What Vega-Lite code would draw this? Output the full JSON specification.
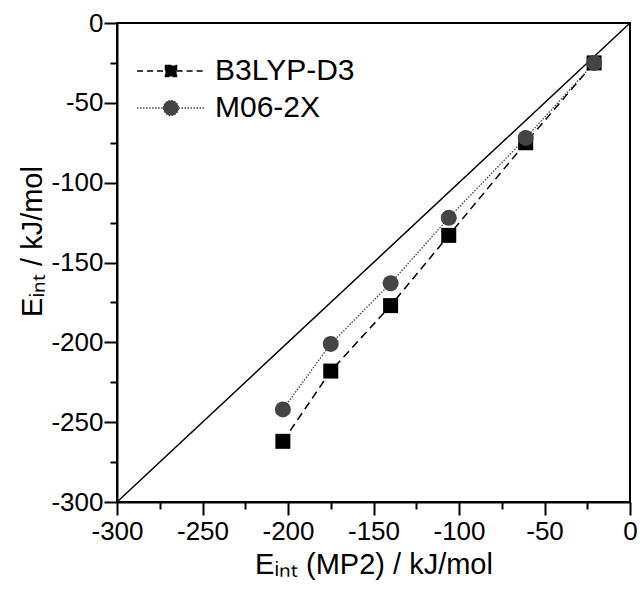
{
  "$schema": "https://vega.github.io/schema/vega-lite/v6.json",
  "width": 513,
  "height": 479,
  "autosize": {"type": "none"},
  "padding": {"left": 117, "top": 23, "right": 10, "bottom": 87},
  "background": "white",
  "config": {
    "font": "Liberation Sans",
    "view": {"stroke": "black", "strokeWidth": 2},
    "axis": {
      "grid": false,
      "domainColor": "black",
      "domainWidth": 2,
      "tickColor": "black",
      "tickWidth": 2,
      "labelColor": "black",
      "labelFontSize": 26,
      "labelFlush": false,
      "labelOverlap": false,
      "titleColor": "black",
      "titleFontSize": 29,
      "titleFontWeight": "normal"
    }
  },
  "data": {
    "values": [
      {"method": "B3LYP-D3", "mp2": -203, "dft": -262},
      {"method": "B3LYP-D3", "mp2": -175, "dft": -218},
      {"method": "B3LYP-D3", "mp2": -140, "dft": -177},
      {"method": "B3LYP-D3", "mp2": -106, "dft": -133},
      {"method": "B3LYP-D3", "mp2": -61, "dft": -75},
      {"method": "B3LYP-D3", "mp2": -21, "dft": -25},
      {"method": "M06-2X", "mp2": -203, "dft": -242},
      {"method": "M06-2X", "mp2": -175, "dft": -201},
      {"method": "M06-2X", "mp2": -140, "dft": -163},
      {"method": "M06-2X", "mp2": -106, "dft": -122},
      {"method": "M06-2X", "mp2": -61, "dft": -72},
      {"method": "M06-2X", "mp2": -21, "dft": -25}
    ]
  },
  "encoding": {
    "x": {
      "field": "mp2", "type": "quantitative",
      "scale": {"domain": [-300, 0], "nice": false, "zero": false},
      "axis": {
        "values": [-300, -275, -250, -225, -200, -175, -150, -125, -100, -75, -50, -25, 0],
        "labelExpr": "datum.value % 50 === 0 ? '' + datum.value : ''",
        "tickSize": {"condition": {"test": "datum.value % 50 === 0", "value": 13}, "value": 7},
        "labelPadding": 3,
        "title": "Eᵢₙₜ (MP2) / kJ/mol",
        "titlePadding": 6
      }
    },
    "y": {
      "field": "dft", "type": "quantitative",
      "scale": {"domain": [-300, 0], "nice": false, "zero": false},
      "axis": {
        "values": [-300, -275, -250, -225, -200, -175, -150, -125, -100, -75, -50, -25, 0],
        "labelExpr": "datum.value % 50 === 0 ? '' + datum.value : ''",
        "tickSize": {"condition": {"test": "datum.value % 50 === 0", "value": 13}, "value": 7},
        "labelPadding": 1,
        "title": "Eᵢₙₜ / kJ/mol",
        "titlePadding": 3,
        "titleY": 218
      }
    }
  },
  "layer": [
    {
      "data": {"values": [{"mp2": -300, "dft": -300}, {"mp2": 0, "dft": 0}]},
      "mark": {"type": "line", "color": "black", "strokeWidth": 1.5},
      "encoding": {}
    },
    {
      "mark": {"type": "line"},
      "encoding": {
        "detail": {"field": "method"},
        "stroke": {"condition": {"test": "datum.method === 'B3LYP-D3'", "value": "black"}, "value": "#444"},
        "strokeWidth": {"condition": {"test": "datum.method === 'B3LYP-D3'", "value": 1.5}, "value": 1.3},
        "strokeDash": {"condition": {"test": "datum.method === 'B3LYP-D3'", "value": [8, 5]}, "value": [1.5, 1.5]}
      }
    },
    {
      "mark": {"type": "point", "filled": true, "opacity": 1},
      "encoding": {
        "shape": {"condition": {"test": "datum.method === 'B3LYP-D3'", "value": "square"}, "value": "circle"},
        "size": {"condition": {"test": "datum.method === 'B3LYP-D3'", "value": 225}, "value": 256},
        "fill": {"condition": {"test": "datum.method === 'B3LYP-D3'", "value": "black"}, "value": "#444"}
      }
    },
    {
      "mark": {"type": "point", "filled": true, "opacity": 0, "strokeWidth": 1.3},
      "encoding": {
        "shape": {
          "field": "method", "type": "nominal",
          "scale": {
            "domain": ["B3LYP-D3", "M06-2X"],
            "range": [
              "M-4.85,0H-0.8M0.8,0H4.85M-0.8,-0.8H0.8V0.8H-0.8Z",
              "M-4.85,0H-1.07M1.07,0H4.85M-1.07,0A1.07,1.07 0 1,1 1.07,0A1.07,1.07 0 1,1 -1.07,0Z"
            ]
          },
          "legend": {"title": null, "orient": "none", "legendX": 39, "legendY": 33, "padding": 0, "symbolSize": 196, "symbolOpacity": 1, "symbolStrokeWidth": 1.3, "labelFontSize": 30, "labelColor": "black", "labelOffset": 29, "rowPadding": 7, "labelFont": "Liberation Sans"}
        },
        "fill": {
          "field": "method", "type": "nominal",
          "scale": {"domain": ["B3LYP-D3", "M06-2X"], "range": ["black", "#444"]},
          "legend": {"title": null, "orient": "none", "legendX": 39, "legendY": 33, "padding": 0, "symbolSize": 196, "symbolOpacity": 1, "symbolStrokeWidth": 1.3, "labelFontSize": 30, "labelColor": "black", "labelOffset": 29, "rowPadding": 7, "labelFont": "Liberation Sans"}
        },
        "stroke": {
          "field": "method", "type": "nominal",
          "scale": {"domain": ["B3LYP-D3", "M06-2X"], "range": ["black", "#444"]},
          "legend": {"title": null, "orient": "none", "legendX": 39, "legendY": 33, "padding": 0, "symbolSize": 196, "symbolOpacity": 1, "symbolStrokeWidth": 1.3, "labelFontSize": 30, "labelColor": "black", "labelOffset": 29, "rowPadding": 7, "labelFont": "Liberation Sans"}
        },
        "strokeDash": {
          "field": "method", "type": "nominal",
          "scale": {"domain": ["B3LYP-D3", "M06-2X"], "range": [[6, 4], [1.5, 1.5]]},
          "legend": {"title": null, "orient": "none", "legendX": 39, "legendY": 33, "padding": 0, "symbolSize": 196, "symbolOpacity": 1, "symbolStrokeWidth": 1.3, "labelFontSize": 30, "labelColor": "black", "labelOffset": 29, "rowPadding": 7, "labelFont": "Liberation Sans"}
        }
      }
    }
  ]
}
